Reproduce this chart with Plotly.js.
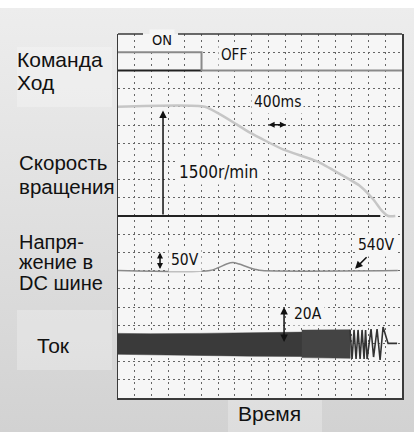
<!DOCTYPE html>
<html>
<head>
<meta charset="utf-8">
<script src="https://cdn.plot.ly/plotly-3.0.1.min.js"></script>
<style>
  html, body { margin: 0; padding: 0; }
  body {
    width: 414px; height: 432px; overflow: hidden;
    background: linear-gradient(to bottom, #ffffff 0px, #ffffff 8px, #ededed 8px, #d2d2d2 432px);
  }
  #chart { width: 414px; height: 432px; }
</style>
</head>
<body>
<div id="chart"></div>
<script>
// ---- Data (time in ms, 400 ms per division) ----
const cmdT = [0, 2000, 2000, 6800];
const cmdV = [1, 1, 0, 0];              // run command ON/OFF
const cmdBaseT = [0, 2000];
const cmdBaseV = [0, 0];

const speedT = [0, 2080, 2850, 3160, 3950, 4770, 5320, 5800, 6110, 6320, 6470, 6640];
const speedV = [1500, 1500, 1255, 1145, 915, 750, 575, 410, 230, 70, 0, 0];   // r/min
const speedBaseT = [0, 6280];
const speedBaseV = [0, 0];

const voltT = [0, 2200, 2400, 2600, 2750, 2900, 3100, 3300, 3450, 6700];
const voltV = [540, 540, 548, 558, 562, 558, 550, 543, 540, 540];            // V

// current: dense carrier shown as its envelope, slower cycles drawn one by one
const bandT  = [0, 770, 1960, 3160, 4360, 4430];
const bandUp = [5.5, 5.3, 5.5, 5.8, 6.0, 6.2];                                // A
const bandLo = [-6.0, -6.3, -6.5, -7.0, -7.2, -7.3];                          // A
const band2T  = [4400, 4800, 5200, 5560];
const band2Up = [7.3, 7.4, 7.5, 7.5];                                          // A
const band2Lo = [-7.8, -7.9, -8.0, -8.2];                                      // A

const zigT = [5556, 5604, 5652, 5700, 5748, 5796, 5844, 5892, 5928, 5964, 6059, 6119, 6203, 6275, 6347, 6467, 6683];
const zigV = [7.4, -8.6, 7.4, -8.6, 7.4, -8.6, 7.4, -8.6, 7.4, -8.6, 7.9, -7.5, 7.9, -9.1, 9.0, 0, 0];

const rowLabels = ["Команда", "Ход", "Скорость", "вращения", "Напря-", "жение в", "DC шине", "Ток"];
const xLabel = "Время";
const tagLabels = ["ON", "OFF", "400ms", "1500r/min", "50V", "540V", "20A"];

// ---- Traces ----
const traces = [
  {x: [], y: [], yaxis: 'y', mode: 'lines', hoverinfo: 'skip'},   // anchors the grid subplot
  {x: cmdBaseT, y: cmdBaseV, yaxis: 'y2', mode: 'lines', line: {color: '#222', width: 2}, hoverinfo: 'skip'},
  {x: cmdT, y: cmdV, yaxis: 'y2', mode: 'lines', line: {color: '#8a8a8a', width: 2}, hoverinfo: 'skip'},
  {x: speedBaseT, y: speedBaseV, yaxis: 'y3', mode: 'lines', line: {color: '#222', width: 2}, hoverinfo: 'skip'},
  {x: speedT, y: speedV, yaxis: 'y3', mode: 'lines', line: {color: '#c6c6c6', width: 2.5, shape: 'spline', smoothing: 0.5}, hoverinfo: 'skip'},
  {x: voltT, y: voltV, yaxis: 'y4', mode: 'lines', line: {color: '#8a8a8a', width: 1.5, shape: 'spline', smoothing: 0.8}, hoverinfo: 'skip'},
  {x: bandT.concat(bandT.slice().reverse()), y: bandUp.concat(bandLo.slice().reverse()), yaxis: 'y5',
   mode: 'lines', fill: 'toself', fillcolor: '#3a3a3a', line: {color: '#3a3a3a', width: 0.5}, hoverinfo: 'skip'},
  {x: band2T.concat(band2T.slice().reverse()), y: band2Up.concat(band2Lo.slice().reverse()), yaxis: 'y5',
   mode: 'lines', fill: 'toself', fillcolor: '#444444', line: {color: '#444444', width: 0.5}, hoverinfo: 'skip'},
  {x: zigT, y: zigV, yaxis: 'y5', mode: 'lines', line: {color: '#333333', width: 1.6}, hoverinfo: 'skip'}
];

// ---- Layout helpers ----
const px = (X) => (X - 118) / 284;
const py = (Y) => (398 - Y) / 364;
const leftFont = {family: 'Liberation Sans, Arial, sans-serif', size: 21, color: '#111'};
const narrowFamily = 'Liberation Sans Narrow, Arial Narrow, DejaVu Sans Condensed, sans-serif';
const PBG = '#f6f6f6';

function leftLabel(text, xL, yC, size) {
  return {text: text, xref: 'paper', yref: 'paper', x: px(xL), y: py(yC), xanchor: 'left', yanchor: 'middle',
          showarrow: false, font: Object.assign({}, leftFont, size ? {size: size} : {})};
}
function tag(text, xC, yC, size) {
  return {text: text, xref: 'paper', yref: 'paper', x: px(xC), y: py(yC), xanchor: 'center', yanchor: 'middle',
          showarrow: false, font: {family: narrowFamily, size: size || 15.5, color: '#111'},
          bgcolor: PBG, borderpad: 2};
}

const annotations = [
  leftLabel(rowLabels[0], 15, 60),
  leftLabel(rowLabels[1], 15, 83),
  leftLabel(rowLabels[2], 17, 162.5, 20.5),
  leftLabel(rowLabels[3], 17, 187, 20.5),
  leftLabel(rowLabels[4], 17, 242, 20),
  leftLabel(rowLabels[5], 17, 262, 20),
  leftLabel(rowLabels[6], 17, 283, 20),
  leftLabel(rowLabels[7], 35, 345),
  {text: xLabel, xref: 'paper', yref: 'paper', x: px(269), y: py(413), xanchor: 'center', yanchor: 'middle',
   showarrow: false, font: leftFont},
  tag(tagLabels[0], 161.5, 40, 14.5),
  tag(tagLabels[1], 234, 54.5, 15),
  tag(tagLabels[2], 277.5, 101.5),
  tag(tagLabels[3], 218.5, 171.5, 17),
  tag(tagLabels[4], 185, 260),
  tag(tagLabels[5], 376.5, 245),
  tag(tagLabels[6], 307.5, 314),
  // arrows
  {text: '', x: 1078, y: 1450, xref: 'x', yref: 'y3', ax: 1078, ay: 0, axref: 'x', ayref: 'y3',
   showarrow: true, arrowhead: 2, arrowsize: 1, arrowwidth: 1.5, arrowcolor: '#111'},
  {text: '', x: 1006, y: 590, xref: 'x', yref: 'y4', ax: 1006, ay: 540, axref: 'x', ayref: 'y4',
   showarrow: true, arrowhead: 2, arrowside: 'end+start', arrowsize: 0.8, arrowwidth: 1.5, arrowcolor: '#111'},
  {text: '', x: 3976, y: 20, xref: 'x', yref: 'y5', ax: 3976, ay: 0, axref: 'x', ayref: 'y5',
   showarrow: true, arrowhead: 2, arrowside: 'end+start', arrowsize: 1, arrowwidth: 1.5, arrowcolor: '#111'},
  {text: '', x: 4020, y: 1255, xref: 'x', yref: 'y3', ax: 3570, ay: 1255, axref: 'x', ayref: 'y3',
   showarrow: true, arrowhead: 2, arrowside: 'end+start', arrowsize: 0.8, arrowwidth: 1.5, arrowcolor: '#111'},
  {text: '', x: 5676, y: 545, xref: 'x', yref: 'y4', ax: 5988, ay: 581, axref: 'x', ayref: 'y4',
   showarrow: true, arrowhead: 2, arrowsize: 1, arrowwidth: 1.5, arrowcolor: '#111'}
];

const shapes = [
  // lighter label panels
  {type: 'rect', xref: 'paper', yref: 'paper', x0: px(17), x1: px(112), y0: py(107), y1: py(47),
   fillcolor: 'rgba(255,255,255,0.25)', line: {width: 0}, layer: 'below'},
  {type: 'rect', xref: 'paper', yref: 'paper', x0: px(17), x1: px(112), y0: py(370), y1: py(310),
   fillcolor: 'rgba(255,255,255,0.25)', line: {width: 0}, layer: 'below'},
  {type: 'rect', xref: 'paper', yref: 'paper', x0: px(228), x1: px(322), y0: py(432), y1: py(398),
   fillcolor: 'rgba(255,255,255,0.25)', line: {width: 0}, layer: 'below'},
  // top border with gap for "ON"
  {type: 'line', xref: 'paper', yref: 'paper', x0: 0, x1: px(143), y0: 1, y1: 1, line: {color: '#3a3a3a', width: 1.5}},
  {type: 'line', xref: 'paper', yref: 'paper', x0: px(178), x1: 1, y0: 1, y1: 1, line: {color: '#3a3a3a', width: 1.5}}
];

const hidden = {overlaying: 'y', visible: false, fixedrange: true};
const layout = {
  width: 414, height: 432,
  margin: {l: 118, r: 12, t: 34, b: 34},
  paper_bgcolor: 'rgba(0,0,0,0)',
  plot_bgcolor: PBG,
  showlegend: false,
  xaxis: {range: [0, 6800], dtick: 400, tick0: 0, showgrid: true, griddash: '2px,4px', gridcolor: '#666', gridwidth: 1,
          zeroline: false, showticklabels: false, ticks: '', showline: true, linecolor: '#3a3a3a', linewidth: 1.5, mirror: false},
  yaxis: {range: [0, 20], dtick: 1, tick0: 0, showgrid: true, griddash: '2px,3px', gridcolor: '#666', gridwidth: 1,
          zeroline: false, showticklabels: false, ticks: '', showline: true, linecolor: '#3a3a3a', linewidth: 1.5, mirror: true},
  yaxis2: Object.assign({range: [-18, 2]}, hidden),
  yaxis3: Object.assign({range: [-2500, 2500]}, hidden),
  yaxis4: Object.assign({range: [190, 1190]}, hidden),
  yaxis5: Object.assign({range: [-30, 170]}, hidden),
  annotations: annotations,
  shapes: shapes
};

Plotly.newPlot('chart', traces, layout, {displayModeBar: false, staticPlot: true});
</script>
</body>
</html>
